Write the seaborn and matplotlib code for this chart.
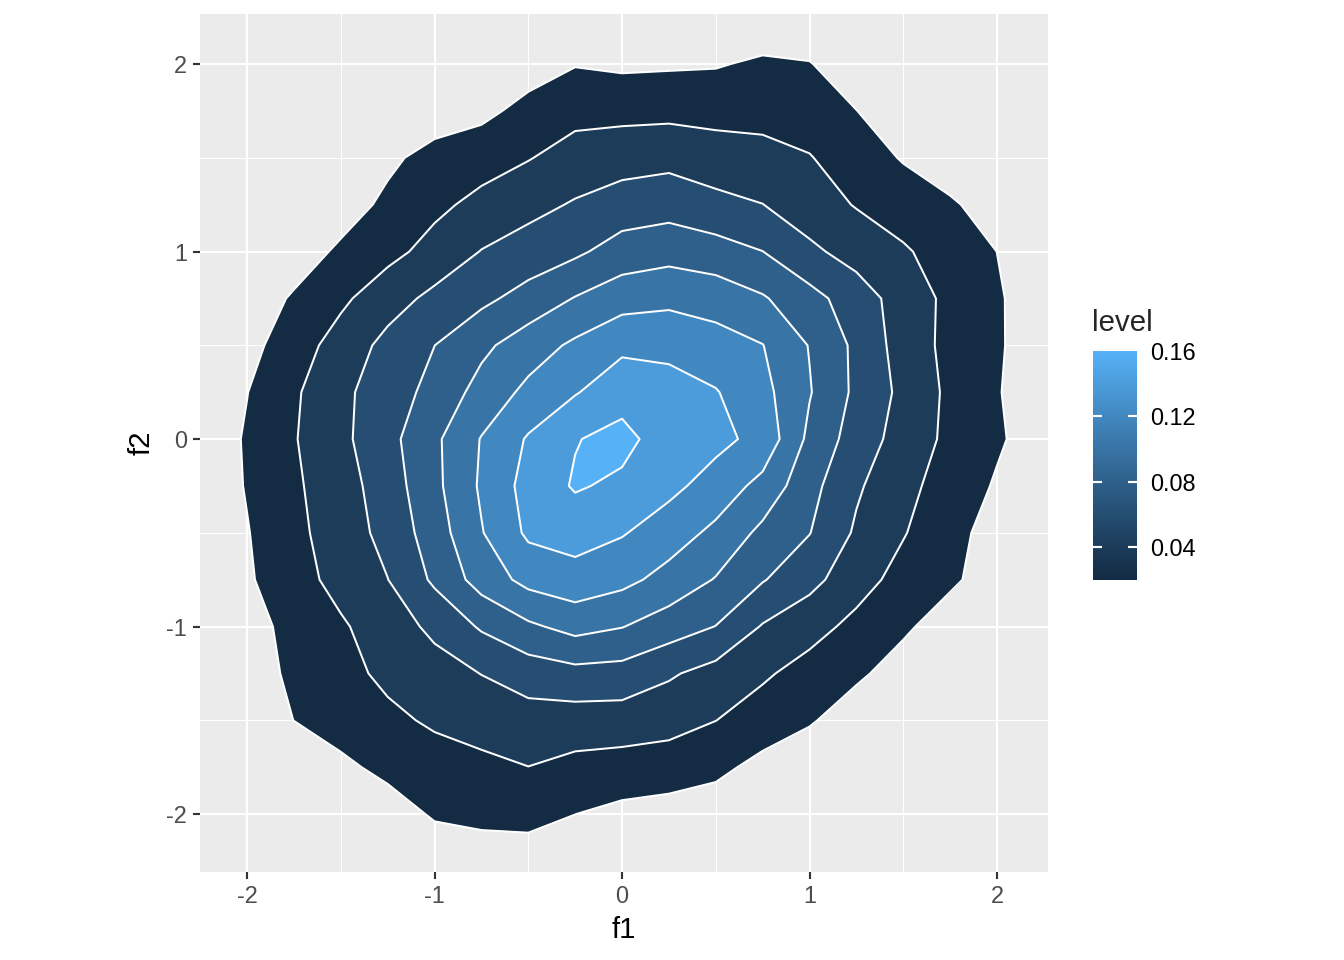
import numpy as np
import matplotlib
matplotlib.use("Agg")
import matplotlib.pyplot as plt
import matplotlib.colors as mcolors
import matplotlib.colorbar as mcolorbar
import seaborn as sns

# grid of estimated 2d density values (read off the contour bands)
f1_grid = [-2.5, -2.25, -2.0, -1.75, -1.5, -1.25, -1.0, -0.75, -0.5, -0.25, 0.0,
           0.25, 0.5, 0.75, 1.0, 1.25, 1.5, 1.75, 2.0, 2.25, 2.5]
f2_grid = [2.5, 2.25, 2.0, 1.75, 1.5, 1.25, 1.0, 0.75, 0.5, 0.25, 0.0,
           -0.25, -0.5, -0.75, -1.0, -1.25, -1.5, -1.75, -2.0, -2.25, -2.5]

density = [
    [0, 0, 0, 0, 0, 0, 0, 0.001, 0.001, 0.002, 0.002, 0.002, 0.002, 0.002, 0.002, 0.001, 0, 0, 0, 0, 0],
    [0, 0, 0, 0, 0, 0, 0, 0.001, 0.002, 0.005, 0.004, 0.004, 0.005, 0.006, 0.005, 0.002, 0.001, 0, 0, 0, 0],
    [0, 0, 0, 0, 0, 0.001, 0.002, 0.005, 0.011, 0.019, 0.0165, 0.0175, 0.0185, 0.0232, 0.021, 0.008, 0.002, 0.001, 0, 0, 0],
    [0, 0, 0, 0.001, 0.001, 0.003, 0.0095, 0.015, 0.0262, 0.034, 0.0343, 0.0347, 0.0338, 0.0336, 0.0305, 0.0203, 0.007, 0.002, 0, 0, 0],
    [0, 0, 0.001, 0.002, 0.005, 0.016, 0.027, 0.0319, 0.039, 0.048, 0.0518, 0.0543, 0.0489, 0.0462, 0.041, 0.030, 0.0185, 0.01, 0.003, 0.001, 0],
    [0, 0.001, 0.001, 0.003, 0.011, 0.0242, 0.0356, 0.0454, 0.0541, 0.0618, 0.069, 0.0719, 0.0657, 0.0603, 0.0493, 0.0388, 0.0306, 0.0224, 0.012, 0.004, 0.001],
    [0, 0.001, 0.003, 0.010, 0.0234, 0.0342, 0.0468, 0.0607, 0.0685, 0.0764, 0.0886, 0.0929, 0.0881, 0.0802, 0.064, 0.0524, 0.0423, 0.0312, 0.0199, 0.008, 0.002],
    [0.001, 0.002, 0.0085, 0.0223, 0.0361, 0.0517, 0.065, 0.0754, 0.0874, 0.101, 0.1116, 0.1152, 0.1118, 0.102, 0.0869, 0.0698, 0.0513, 0.0351, 0.0222, 0.009, 0.002],
    [0.001, 0.003, 0.0138, 0.0305, 0.0483, 0.0657, 0.0799, 0.0955, 0.1104, 0.1236, 0.1358, 0.1346, 0.1278, 0.1205, 0.0991, 0.0756, 0.0513, 0.0345, 0.0223, 0.009, 0.002],
    [0.001, 0.004, 0.0196, 0.0371, 0.0555, 0.0703, 0.0862, 0.1072, 0.1249, 0.1386, 0.1522, 0.148, 0.1412, 0.126, 0.1013, 0.0758, 0.0551, 0.0358, 0.0213, 0.008, 0.002],
    [0.002, 0.007, 0.022, 0.0387, 0.0553, 0.0738, 0.0962, 0.121, 0.142, 0.159, 0.166, 0.150, 0.1454, 0.134, 0.0953, 0.0708, 0.0519, 0.0354, 0.0226, 0.010, 0.002],
    [0.002, 0.006, 0.0213, 0.0369, 0.0514, 0.0699, 0.095, 0.1228, 0.1472, 0.162, 0.156, 0.1452, 0.1318, 0.1138, 0.0865, 0.0628, 0.0457, 0.0313, 0.018, 0.006, 0.001],
    [0.001, 0.005, 0.019, 0.035, 0.0497, 0.0662, 0.0902, 0.1188, 0.1435, 0.1481, 0.1415, 0.1296, 0.1154, 0.0951, 0.0806, 0.0572, 0.0412, 0.0266, 0.012, 0.004, 0.001],
    [0.001, 0.005, 0.0175, 0.0323, 0.0464, 0.0597, 0.0835, 0.1084, 0.1261, 0.1324, 0.1255, 0.1132, 0.0988, 0.0813, 0.0663, 0.0476, 0.0334, 0.0232, 0.011, 0.003, 0.001],
    [0, 0.003, 0.013, 0.0257, 0.0375, 0.0502, 0.0645, 0.0824, 0.0965, 0.1067, 0.1007, 0.0898, 0.0796, 0.0585, 0.0468, 0.035, 0.0231, 0.011, 0.004, 0.001, 0],
    [0, 0.002, 0.011, 0.0237, 0.0344, 0.0439, 0.0521, 0.0604, 0.0689, 0.0737, 0.0724, 0.0625, 0.0527, 0.0427, 0.0329, 0.0233, 0.012, 0.004, 0.001, 0, 0],
    [0, 0.001, 0.006, 0.0202, 0.0282, 0.0361, 0.0426, 0.0476, 0.052, 0.051, 0.0507, 0.0471, 0.0402, 0.0312, 0.022, 0.010, 0.003, 0.001, 0, 0, 0],
    [0, 0, 0.001, 0.004, 0.016, 0.025, 0.0322, 0.0355, 0.0398, 0.0344, 0.0319, 0.0304, 0.0251, 0.014, 0.007, 0.003, 0.001, 0, 0, 0, 0],
    [0, 0, 0, 0, 0.003, 0.011, 0.0222, 0.0244, 0.0256, 0.0201, 0.015, 0.012, 0.009, 0.005, 0.002, 0, 0, 0, 0, 0, 0],
    [0, 0, 0, 0, 0, 0.004, 0.008, 0.0115, 0.0115, 0.009, 0.006, 0.005, 0.003, 0.001, 0, 0, 0, 0, 0, 0, 0],
    [0, 0, 0, 0, 0, 0, 0.001, 0.002, 0.002, 0.001, 0.001, 0, 0, 0, 0, 0, 0, 0, 0, 0, 0],
]

levels = [0.02, 0.04, 0.06, 0.08, 0.10, 0.12, 0.14, 0.16]
level_ticks = [0.04, 0.08, 0.12, 0.16]
level_labels = ["0.04", "0.08", "0.12", "0.16"]
axis_ticks = [-2, -1, 0, 1, 2]
axis_labels = ["-2", "-1", "0", "1", "2"]
minor_ticks = [-1.5, -0.5, 0.5, 1.5]
low_colour = "#132B43"
high_colour = "#56B1F7"

# ggplot style gradient, interpolated in Lab space
RGB2XYZ = np.array([[0.4124, 0.3576, 0.1805],
                    [0.2126, 0.7152, 0.0722],
                    [0.0193, 0.1192, 0.9505]])
XYZ2RGB = np.linalg.inv(RGB2XYZ)
WHITE = np.array([0.95047, 1.0, 1.08883])


def hex_to_lab(h):
    rgb = np.array(mcolors.to_rgb(h))
    lin = np.where(rgb <= 0.04045, rgb / 12.92, ((rgb + 0.055) / 1.055) ** 2.4)
    t = RGB2XYZ @ lin / WHITE
    f = np.where(t > (6 / 29) ** 3, np.cbrt(t), t / (3 * (6 / 29) ** 2) + 4 / 29)
    return np.array([116 * f[1] - 16, 500 * (f[0] - f[1]), 200 * (f[1] - f[2])])


def lab_to_rgb(lab):
    fy = (lab[0] + 16) / 116
    f = np.array([fy + lab[1] / 500, fy, fy - lab[2] / 200])
    xyz = np.where(f > 6 / 29, f ** 3, 3 * (6 / 29) ** 2 * (f - 4 / 29)) * WHITE
    lin = np.clip(XYZ2RGB @ xyz, 0, 1)
    rgb = np.where(lin <= 0.0031308, 12.92 * lin, 1.055 * lin ** (1 / 2.4) - 0.055)
    return np.clip(rgb, 0, 1)


lab_lo = hex_to_lab(low_colour)
lab_hi = hex_to_lab(high_colour)
grad = [lab_to_rgb(lab_lo + (lab_hi - lab_lo) * t) for t in np.linspace(0, 1, 256)]
cmap = mcolors.ListedColormap(grad)
norm = mcolors.Normalize(vmin=min(levels), vmax=max(levels))
band_colours = [cmap(norm(lv)) for lv in levels]

# theme
sns.set_theme(style="darkgrid", rc={
    "axes.facecolor": "#EBEBEB",
    "grid.color": "white",
    "axes.edgecolor": "none",
    "axes.unicode_minus": False,
})
plt.rcParams["font.family"] = ["Liberation Sans", "DejaVu Sans"]

fig = plt.figure(figsize=(7, 5), dpi=192)
ax = fig.add_axes([200 / 1344, 88 / 960, 848 / 1344, 858 / 960])

Z = np.array(density)[::-1]
X, Y = np.meshgrid(f1_grid, f2_grid[::-1])

ax.contourf(X, Y, Z, levels=levels + [1.0], colors=band_colours, zorder=2)
ax.contour(X, Y, Z, levels=levels, colors="white", linewidths=0.75, zorder=3)

ax.set_xlim(-2.251, 2.272)
ax.set_ylim(-2.309, 2.267)
ax.set_xticks(axis_ticks)
ax.set_xticklabels(axis_labels)
ax.set_yticks(axis_ticks)
ax.set_yticklabels(axis_labels)
ax.set_xticks(minor_ticks, minor=True)
ax.set_yticks(minor_ticks, minor=True)
ax.set_axisbelow(True)
ax.grid(which="major", color="white", linewidth=0.8)
ax.grid(which="minor", color="white", linewidth=0.4)
ax.tick_params(which="major", length=2.75, width=0.8, color="#333333",
               labelsize=8.8, labelcolor="#4D4D4D", pad=2.2, bottom=True, left=True)
ax.tick_params(which="minor", length=0)
for s in ax.spines.values():
    s.set_visible(False)

ax.set_xlabel("f1", fontsize=11, color="black", labelpad=3)
ax.set_ylabel("f2", fontsize=11, color="black", labelpad=4)

# colourbar legend
cax = fig.add_axes([1093 / 1344, 380 / 960, 44 / 1344, 229 / 960])
cb = mcolorbar.ColorbarBase(cax, cmap=cmap, norm=norm, orientation="vertical")
cb.outline.set_visible(False)
cb.set_ticks(level_ticks)
cb.set_ticklabels(level_labels)
cax.tick_params(length=0, labelsize=8.8, labelcolor="black", pad=5)
cax.hlines(level_ticks[:-1], 0, 0.2, colors="white", linewidth=0.8, transform=cax.get_yaxis_transform())
cax.hlines(level_ticks[:-1], 0.8, 1.0, colors="white", linewidth=0.8, transform=cax.get_yaxis_transform())
cax.grid(False)
fig.text(1092 / 1344, 1 - 323 / 960, "level", fontsize=11, ha="left", va="center")

fig.savefig("out.png", dpi=192)
